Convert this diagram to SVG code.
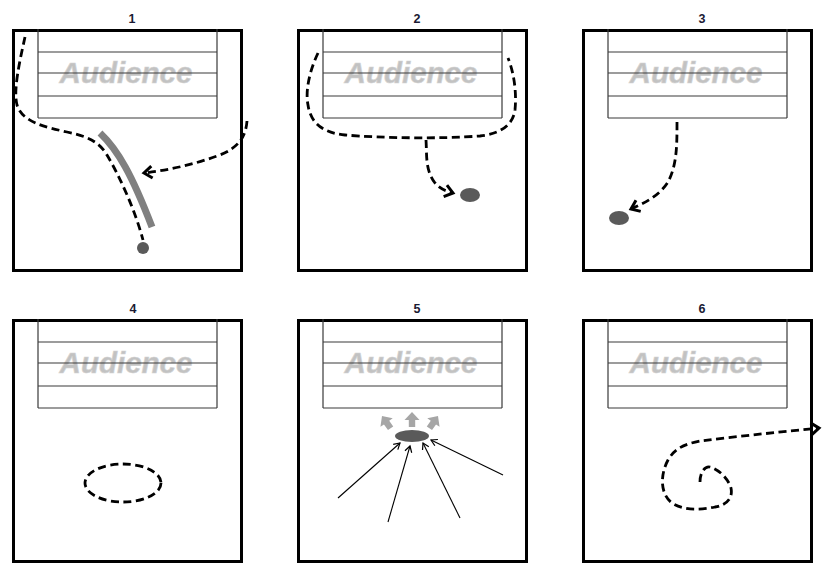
<svg xmlns="http://www.w3.org/2000/svg" xmlns:xlink="http://www.w3.org/1999/xlink" width="822" height="565" viewBox="0 0 822 565">
<style>
.box{fill:#fff;stroke:#000;stroke-width:3}
.aline{stroke:#3a3a3a;stroke-width:1.2;fill:none}
.atext{font-family:"Liberation Sans",Arial,sans-serif;font-weight:bold;font-style:italic;font-size:29.5px;fill:#c2c2c2;stroke:#d4d4d4;stroke-width:0.6;text-anchor:middle}
.title{font-family:"Liberation Sans",Arial,sans-serif;font-weight:bold;font-size:12.5px;fill:#1a1a33;text-anchor:middle}
.dash{fill:none;stroke:#000;stroke-width:2.8;stroke-dasharray:8 4.5}
.thin{fill:none;stroke:#000;stroke-width:1.1}
.dot{fill:#5a5a5a}
.garrow{fill:#a6a6a6}
</style>
<defs>
<marker id="ah" markerUnits="userSpaceOnUse" markerWidth="16" markerHeight="18" viewBox="-12 -9 16 18" refX="0" refY="0" orient="auto">
<path d="M-8,-6 L0,0 L-8,6" fill="none" stroke="#000" stroke-width="3"/>
</marker>
<marker id="ahs" markerUnits="userSpaceOnUse" markerWidth="10" markerHeight="10" viewBox="-8 -5 10 10" refX="0" refY="0" orient="auto">
<path d="M-6,-3.5 L0,0 L-6,3.5" fill="none" stroke="#000" stroke-width="1.2"/>
</marker>
<g id="aud">
<text class="atext" x="114" y="54">Audience</text>
<path class="aline" d="M26,0 V89 M205,0 V89 M26,23 H205 M26,44 H205 M26,67 H205 M26,89 H205"/>
</g>
<polygon id="blk" points="0,0 7.5,8 3.2,8 3.2,15 -3.2,15 -3.2,8 -7.5,8"/>
</defs>

<g id="panel1">
<rect class="box" x="13.5" y="30.5" width="228" height="240"/>
<use xlink:href="#aud" x="12" y="29"/>
<text class="title" x="132" y="23">1</text>
</g>
<g id="panel2">
<rect class="box" x="298.5" y="30.5" width="228" height="240"/>
<use xlink:href="#aud" x="297" y="29"/>
<text class="title" x="417" y="23">2</text>
</g>
<g id="panel3">
<rect class="box" x="583.5" y="30.5" width="228" height="240"/>
<use xlink:href="#aud" x="582" y="29"/>
<text class="title" x="702" y="23">3</text>
</g>
<g id="panel4">
<rect class="box" x="13.5" y="320.5" width="228" height="241"/>
<use xlink:href="#aud" x="12" y="319"/>
<text class="title" x="133" y="313">4</text>
</g>
<g id="panel5">
<rect class="box" x="298.5" y="320.5" width="228" height="241"/>
<use xlink:href="#aud" x="297" y="319"/>
<text class="title" x="417" y="313">5</text>
</g>
<g id="panel6">
<rect class="box" x="583.5" y="320.5" width="228" height="241"/>
<use xlink:href="#aud" x="582" y="319"/>
<text class="title" x="702" y="313">6</text>
</g>

<g id="marks">
<path d="M100,133 C118,150 132,175 152,227" fill="none" stroke="#808080" stroke-width="7"/>
<circle class="dot" cx="143" cy="248" r="6"/>
<ellipse class="dot" cx="470" cy="195" rx="10" ry="7"/>
<ellipse class="dot" cx="619" cy="218" rx="10" ry="7"/>
<ellipse class="dot" cx="412" cy="436" rx="17" ry="6"/>
<use xlink:href="#blk" class="garrow" transform="translate(382,416) rotate(-35)"/>
<use xlink:href="#blk" class="garrow" transform="translate(412,412)"/>
<use xlink:href="#blk" class="garrow" transform="translate(438,416) rotate(35)"/>
</g>

<g id="connectors">
<path class="dash" d="M25,37 C20,60 13,90 17,105 C22,122 45,127 67,132 C85,136 98,140 107,155 C120,177 135,210 143,240"/>
<path class="dash" marker-end="url(#ah)" d="M247,121 C246,135 240,148 217,156 C195,164 170,170 144,173"/>
<path class="dash" d="M318,53 C310,70 305,90 308,105 C311,125 325,133 345,135 C380,138 440,139 480,136 C500,134 513,125 515,110 C517,90 513,70 508,58"/>
<path class="dash" marker-end="url(#ah)" d="M426,140 C427,155 425,170 435,183 C440,189 446,191 453,193"/>
<path class="dash" marker-end="url(#ah)" d="M677,122 C677,145 677,165 668,182 C660,195 645,203 631,209"/>
<ellipse class="dash" cx="123" cy="483" rx="38" ry="19"/>
<path class="dash" marker-end="url(#ah)" d="M700,482 C700,472 705,466 710,467 C718,469 728,478 731,488 C733,498 727,505 715,507 C700,510 685,511 672,503 C660,494 660,475 668,460 C675,448 685,444 700,441 C740,436 790,431 819,428"/>
<path class="thin" marker-end="url(#ahs)" d="M338,498 L400,443"/>
<path class="thin" marker-end="url(#ahs)" d="M388,522 L410,446"/>
<path class="thin" marker-end="url(#ahs)" d="M460,518 L423,443"/>
<path class="thin" marker-end="url(#ahs)" d="M503,475 L431,440"/>
</g>
</svg>
